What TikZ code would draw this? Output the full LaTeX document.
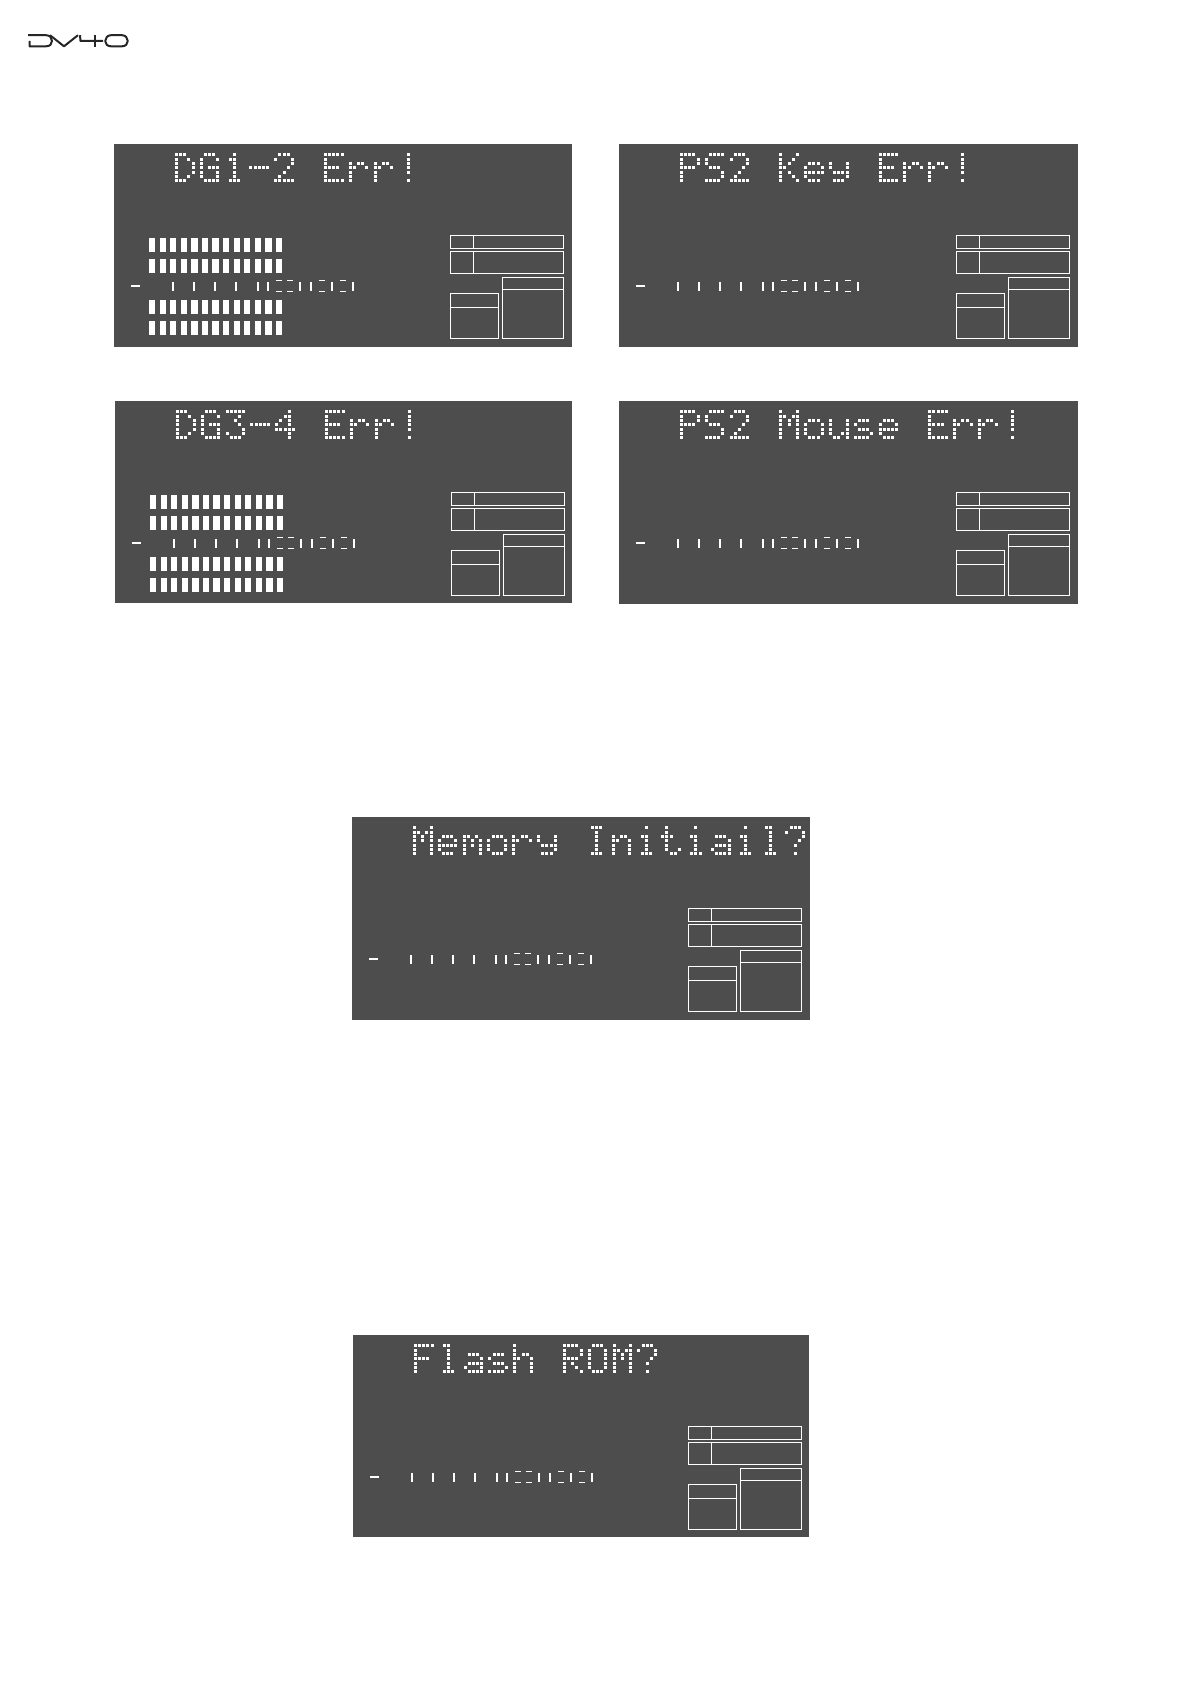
\documentclass[tikz,border=0pt]{standalone}
\usepackage{fontspec}
\setmainfont{DejaVu Sans Mono}
\definecolor{lcdbg}{HTML}{4D4D4D}
\tikzset{
  lcdpanel/.style={fill=lcdbg,draw=none,inner sep=0pt,outer sep=0pt,anchor=north west},
  lcddot/.style={fill=white,draw=none},
  lcdbar/.style={fill=white,draw=none},
  lcdtick/.style={draw=white,line width=0.85pt},
  lcdbox/.style={draw=white,line width=0.75pt},
  lcdlabel/.style={text opacity=0,inner sep=0pt,anchor=north west,font=\fontsize{20}{20}\selectfont},
  logostroke/.style={draw=black!85,line width=1pt,line cap=butt,line join=round}
}
\def\defglyph#1#2{\expandafter\def\csname glyph@#1\endcsname{#2}}
\defglyph{.}{00000,00000,00000,00000,00000,00000,00000}
\defglyph{D}{11100,10010,10001,10001,10001,10010,11100}
\defglyph{G}{01110,10001,10000,10111,10001,10001,01111}
\defglyph{1}{00100,01100,00100,00100,00100,00100,01110}
\defglyph{2}{01110,10001,00001,00010,00100,01000,11111}
\defglyph{3}{11111,00010,00100,00010,00001,10001,01110}
\defglyph{4}{00010,00110,01010,10010,11111,00010,00010}
\defglyph{-}{00000,00000,00000,11111,00000,00000,00000}
\defglyph{E}{11111,10000,10000,11110,10000,10000,11111}
\defglyph{r}{00000,00000,10110,11001,10000,10000,10000}
\defglyph{!}{00100,00100,00100,00100,00100,00000,00100}
\defglyph{P}{11110,10001,10001,11110,10000,10000,10000}
\defglyph{S}{01111,10000,10000,01110,00001,00001,11110}
\defglyph{K}{10001,10010,10100,11000,10100,10010,10001}
\defglyph{e}{00000,00000,01110,10001,11111,10000,01110}
\defglyph{y}{00000,00000,10001,10001,01111,00001,01110}
\defglyph{M}{10001,11011,10101,10101,10001,10001,10001}
\defglyph{o}{00000,00000,01110,10001,10001,10001,01110}
\defglyph{u}{00000,00000,10001,10001,10001,10011,01101}
\defglyph{s}{00000,00000,01110,10000,01110,00001,11110}
\defglyph{m}{00000,00000,11010,10101,10101,10001,10001}
\defglyph{n}{00000,00000,10110,11001,10001,10001,10001}
\defglyph{I}{01110,00100,00100,00100,00100,00100,01110}
\defglyph{i}{00100,00000,01100,00100,00100,00100,01110}
\defglyph{t}{01000,01000,11100,01000,01000,01001,00110}
\defglyph{a}{00000,00000,01110,00001,01111,10001,01111}
\defglyph{l}{01100,00100,00100,00100,00100,00100,01110}
\defglyph{?}{01110,10001,00001,00010,00100,00000,00100}
\defglyph{F}{11111,10000,10000,11110,10000,10000,10000}
\defglyph{h}{10000,10000,10110,11001,10001,10001,10001}
\defglyph{R}{11110,10001,10001,11110,10100,10010,10001}
\defglyph{O}{01110,10001,10001,10001,10001,10001,01110}
\def\dmdot#1#2{\ifnum#1=1 \fill[lcddot] ({61+\i*24.83+#2*4.14},{9.3+\j*4.33}) rectangle ++(3,3);\fi}
\def\rowdots#1#2#3#4#5{\dmdot{#1}{0}\dmdot{#2}{1}\dmdot{#3}{2}\dmdot{#4}{3}\dmdot{#5}{4}}
\newcommand\dmtext[1]{%
  \foreach \c [count=\i from 0] in {#1}{%
    \edef\rowlist{\csname glyph@\c\endcsname}%
    \foreach \row [count=\j from 0] in \rowlist {\expandafter\rowdots\row}%
  }%
}
% #1 name, #2 x, #3 y, #4 w, #5 h, #6 shift of the boxes, #7 dot-matrix letters, #8 the text, #9 bars (1/0)
\newcommand\lcdscreen[9]{%
  \node[lcdpanel,minimum width=#4*0.5pt,minimum height=#5*0.5pt] (#1) at (#2,#3) {};
  \begin{scope}[shift={(#2,#3)}]
    \node[lcdlabel] (#1-title) at (61,9) {#8};
    \dmtext{#7}
    \ifnum#9=1
      \foreach \rowy in {94,115,156,177}
        \foreach \n in {0,...,12}
          \fill[lcdbar] ({35+\n*10.58},\rowy) rectangle ++(6.2,14);
    \fi
    \draw[lcdtick] (17,142.3) -- (26,142.3);
    \foreach \tx in {58.7,80,101.3,122.3,143.7,154.3,186.3,197,218.3,239.3}
      \draw[lcdtick] (\tx,138) -- (\tx,147);
    \foreach \tx in {165,176,208,229}{
      \draw[lcdtick] ({\tx-3},136.6) -- ({\tx+3},136.6);
      \draw[lcdtick] ({\tx-3},147.6) -- ({\tx+3},147.6);
    }
    \begin{scope}[shift={(#6,0)}]
      \draw[lcdbox] (336.3,91.3) rectangle (449.7,104.3);
      \draw[lcdbox] (359.3,91.3) -- (359.3,104.3);
      \draw[lcdbox] (336.3,107.7) rectangle (449.7,129.3);
      \draw[lcdbox] (359.3,107.7) -- (359.3,129.3);
      \draw[lcdbox] (336.3,149.7) rectangle (384.3,194.3);
      \draw[lcdbox] (336.3,163.3) -- (384.3,163.3);
      \draw[lcdbox] (388.3,133.7) rectangle (449.7,194.3);
      \draw[lcdbox] (388.3,145.7) -- (449.7,145.7);
    \end{scope}
  \end{scope}
}
\begin{document}
\begin{tikzpicture}[x=0.5pt,y=-0.5pt]
  \useasboundingbox (0,0) rectangle (1191,1685);
  % logo
  \node[lcdlabel,font=\fontsize{9}{9}\selectfont] (logo) at (29,35) {DV40};
  \draw[logostroke] (29.5,41) -- (29.5,46.3) -- (46,46.3) .. controls (50,46.3) and (52,44) .. (52,41) .. controls (52,38) and (50,35.2) .. (46,35.2) -- (28,35.2);
  \draw[logostroke] (50,35.2) -- (64,46.3) -- (78,35.2);
  \draw[logostroke] (80,35.2) -- (80.5,41) -- (103,41);
  \draw[logostroke] (95,35.2) -- (95,47);
  \draw[logostroke] (111,35.2) -- (122,35.2) .. controls (125.5,35.2) and (127.8,38) .. (127.8,41) .. controls (127.8,44) and (125.5,46.3) .. (122,46.3) -- (111,46.3) .. controls (107.5,46.3) and (105.2,44) .. (105.2,41) .. controls (105.2,38) and (107.5,35.2) .. (111,35.2) -- cycle;
  % screens
  \lcdscreen{dgonetwo}{114}{144}{458}{203}{0}{D,G,1,-,2,.,E,r,r,!}{DG1-2 Err!}{1}
  \lcdscreen{pskey}{619}{144}{459}{203}{1}{P,S,2,.,K,e,y,.,E,r,r,!}{PS2 Key Err!}{0}
  \lcdscreen{dgthreefour}{115}{401}{457}{202}{0}{D,G,3,-,4,.,E,r,r,!}{DG3-4 Err!}{1}
  \lcdscreen{psmouse}{619}{401}{459}{203}{1}{P,S,2,.,M,o,u,s,e,.,E,r,r,!}{PS2 Mouse Err!}{0}
  \lcdscreen{meminit}{352}{817}{458}{203}{0}{M,e,m,o,r,y,.,I,n,i,t,i,a,i,l,?}{Memory Initiail?}{0}
  \lcdscreen{flashrom}{353}{1335}{456}{202}{-1}{F,l,a,s,h,.,R,O,M,?}{Flash ROM?}{0}
\end{tikzpicture}
\end{document}
